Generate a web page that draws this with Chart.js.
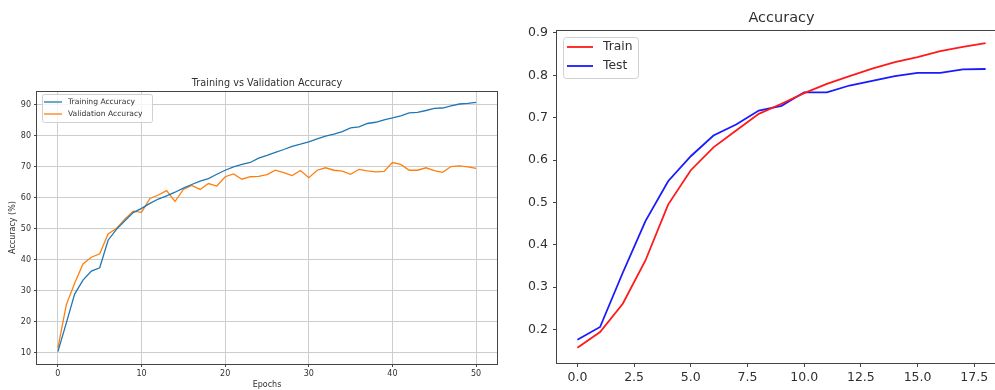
<!DOCTYPE html>
<html>
<head>
<meta charset="utf-8">
<script src="https://cdn.jsdelivr.net/npm/chart.js@4.4.1/dist/chart.umd.min.js"></script>
<style>
  html, body { margin: 0; padding: 0; background: #fff; width: 995px; height: 390px; overflow: hidden; }
  body { position: relative; }
  #left { position: absolute; left: 0; top: 0; }
  #right { position: absolute; left: 520px; top: 0; }
</style>
</head>
<body>
<canvas id="left" width="520" height="390"></canvas>
<canvas id="right" width="520" height="390"></canvas>
<script>
const FONT = "'DejaVu Sans', sans-serif";
const TEXT = "#303030";

// left plot: 51 epochs
const epochs = Array.from({ length: 51 }, (_, i) => i);
const trainAcc = [10.3, 19.5, 28.9, 33.4, 36.3, 37.4, 46.3, 49.8, 52.6, 55.2,
  56.6, 58.2, 59.6, 60.6, 61.8, 63.1, 64.3, 65.4, 66.2, 67.6,
  68.9, 70.0, 70.8, 71.4, 72.8, 73.7, 74.7, 75.6, 76.6, 77.3,
  78.1, 79.0, 79.9, 80.6, 81.4, 82.6, 82.9, 84.0, 84.4, 85.2,
  85.8, 86.5, 87.4, 87.6, 88.2, 88.9, 89.0, 89.7, 90.3, 90.5, 90.8];
const valAcc = [11.4, 25.4, 32.4, 38.6, 40.8, 41.9, 48.3, 50.1, 53.1, 55.7,
  55.3, 59.8, 60.9, 62.3, 58.8, 62.7, 64.0, 62.7, 64.6, 63.8,
  66.8, 67.7, 66.0, 66.8, 66.9, 67.5, 68.9, 68.1, 67.2, 68.8,
  66.5, 68.9, 69.7, 68.9, 68.6, 67.6, 69.2, 68.7, 68.4, 68.5,
  71.4, 70.8, 68.9, 68.9, 69.7, 68.8, 68.2, 70.1, 70.3, 70.0, 69.5];
const leftXTicks = [0, 10, 20, 30, 40, 50];
const leftYTicks = [10, 20, 30, 40, 50, 60, 70, 80, 90];

// right plot: 19 epochs
const rEpochs = Array.from({ length: 19 }, (_, i) => i);
const trainR = [0.157, 0.194, 0.261, 0.363, 0.495, 0.576, 0.630, 0.670, 0.709, 0.733,
  0.758, 0.780, 0.798, 0.816, 0.831, 0.843, 0.857, 0.867, 0.876];
const testR = [0.176, 0.206, 0.334, 0.456, 0.550, 0.609, 0.658, 0.684, 0.717, 0.728,
  0.760, 0.760, 0.776, 0.787, 0.798, 0.806, 0.806, 0.814, 0.815];
const rightXTicks = [0, 2.5, 5, 7.5, 10, 12.5, 15, 17.5];
const rightYTicks = [0.2, 0.3, 0.4, 0.5, 0.6, 0.7, 0.8, 0.9];

// box round the plot area, like matplotlib spines
const frame = {
  id: "frame",
  afterDatasetsDraw(chart, args, o) {
    const { ctx, chartArea: a } = chart;
    ctx.save();
    ctx.strokeStyle = o.color;
    ctx.lineWidth = 1;
    ctx.strokeRect(Math.round(a.left) - 0.5, Math.round(a.top) + 0.5,
      Math.round(a.right - a.left) + 1, Math.round(a.bottom - a.top));
    ctx.restore();
  }
};

// legend inside the axes with a rounded box
const boxLegend = {
  id: "boxLegend",
  afterDraw(chart, args, o) {
    const { ctx, chartArea: a } = chart;
    const x = Math.round(a.left) + o.dx, y = Math.round(a.top) + o.dy;
    ctx.save();
    ctx.fillStyle = "rgba(255,255,255,0.8)";
    ctx.strokeStyle = "#d0d0d0";
    ctx.lineWidth = 1;
    ctx.beginPath();
    ctx.roundRect(x + 0.5, y + 0.5, o.w, o.h, o.r);
    ctx.fill();
    ctx.stroke();
    ctx.font = o.size + "px " + FONT;
    ctx.textBaseline = "middle";
    chart.data.datasets.forEach((ds, i) => {
      const cy = y + o.first + i * o.gap;
      ctx.strokeStyle = ds.borderColor;
      ctx.lineWidth = ds.borderWidth;
      ctx.beginPath();
      ctx.moveTo(x + o.hx, cy);
      ctx.lineTo(x + o.hx + o.hl, cy);
      ctx.stroke();
      ctx.fillStyle = TEXT;
      ctx.fillText(ds.label, x + o.tx, cy);
    });
    ctx.restore();
  }
};

const fixTicks = list => s => { s.ticks = list.map(v => ({ value: v })); };

new Chart(document.getElementById("left"), {
  type: "line",
  plugins: [frame, boxLegend],
  data: {
    labels: epochs,
    datasets: [
      { label: "Training Accuracy", data: trainAcc, borderColor: "#1f77b4", borderWidth: 1.3 },
      { label: "Validation Accuracy", data: valAcc, borderColor: "#ff7f0e", borderWidth: 1.3 }
    ]
  },
  options: {
    responsive: false,
    animation: false,
    elements: { point: { radius: 0 }, line: { tension: 0 } },
    layout: { padding: { top: 70, right: 23, left: 0, bottom: 0 } },
    plugins: {
      legend: { display: false },
      tooltip: { enabled: false },
      title: {
        display: true, text: "Training vs Validation Accuracy", fullSize: false, color: TEXT,
        font: { family: FONT, size: 9.7, weight: "normal", lineHeight: "12px" },
        padding: { top: 7, bottom: 2 }
      },
      frame: { color: "#444" },
      boxLegend: { dx: 5, dy: 3, w: 110, h: 28, r: 2, size: 7.6, hx: 2, hl: 18, tx: 26, first: 8, gap: 12 }
    },
    scales: {
      x: {
        type: "linear", min: -2.5, max: 52.5,
        afterBuildTicks: fixTicks(leftXTicks),
        afterFit: s => { s.height = 26; },
        grid: { color: "#cdcdcd", lineWidth: 1, tickColor: "#444", tickLength: 3 },
        border: { display: false },
        ticks: { color: TEXT, font: { family: FONT, size: 8 }, padding: 2, maxRotation: 0 },
        title: { display: true, text: "Epochs", color: TEXT, font: { family: FONT, size: 8 }, padding: { top: 0, bottom: 0 } }
      },
      y: {
        min: 6.3, max: 94.5,
        afterBuildTicks: fixTicks(leftYTicks),
        afterFit: s => { s.width = 37; },
        grid: { color: "#cdcdcd", lineWidth: 1, tickColor: "#444", tickLength: 3 },
        border: { display: false },
        ticks: { color: TEXT, font: { family: FONT, size: 8 }, padding: 3 },
        title: { display: true, text: "Accuracy (%)", color: TEXT, font: { family: FONT, size: 8 }, padding: { top: 8.2, bottom: 0 } }
      }
    }
  }
});

new Chart(document.getElementById("right"), {
  type: "line",
  plugins: [frame, boxLegend],
  data: {
    labels: rEpochs,
    datasets: [
      { label: "Train", data: trainR, borderColor: "#ff1a1a", borderWidth: 1.8 },
      { label: "Test", data: testR, borderColor: "#1a1aff", borderWidth: 1.8 }
    ]
  },
  options: {
    responsive: false,
    animation: false,
    elements: { point: { radius: 0 }, line: { tension: 0 } },
    layout: { padding: { top: 0, right: 34, left: 0, bottom: 0 } },
    plugins: {
      legend: { display: false },
      tooltip: { enabled: false },
      title: {
        display: true, text: "Accuracy", fullSize: false, color: TEXT,
        font: { family: FONT, size: 14.5, weight: "normal", lineHeight: "17px" },
        padding: { top: 10, bottom: 3 }
      },
      frame: { color: "#444" },
      boxLegend: { dx: 6, dy: 7, w: 75, h: 41, r: 3, size: 12.3, hx: 4, hl: 26, tx: 40, first: 10, gap: 19 }
    },
    scales: {
      x: {
        type: "linear", min: -0.9, max: 18.9,
        afterBuildTicks: fixTicks(rightXTicks),
        afterFit: s => { s.height = 27; },
        grid: { display: true, drawOnChartArea: false, tickColor: "#444", tickLength: 4 },
        border: { display: false },
        ticks: { color: TEXT, font: { family: FONT, size: 12.5 }, padding: 3.5, maxRotation: 0,
          callback: v => v.toFixed(1) }
      },
      y: {
        min: 0.121, max: 0.907,
        afterBuildTicks: fixTicks(rightYTicks),
        afterFit: s => { s.width = 37; },
        grid: { display: true, drawOnChartArea: false, tickColor: "#444", tickLength: 4 },
        border: { display: false },
        ticks: { color: TEXT, font: { family: FONT, size: 12.5 }, padding: 5,
          callback: v => v.toFixed(1) }
      }
    }
  }
});
</script>
</body>
</html>
